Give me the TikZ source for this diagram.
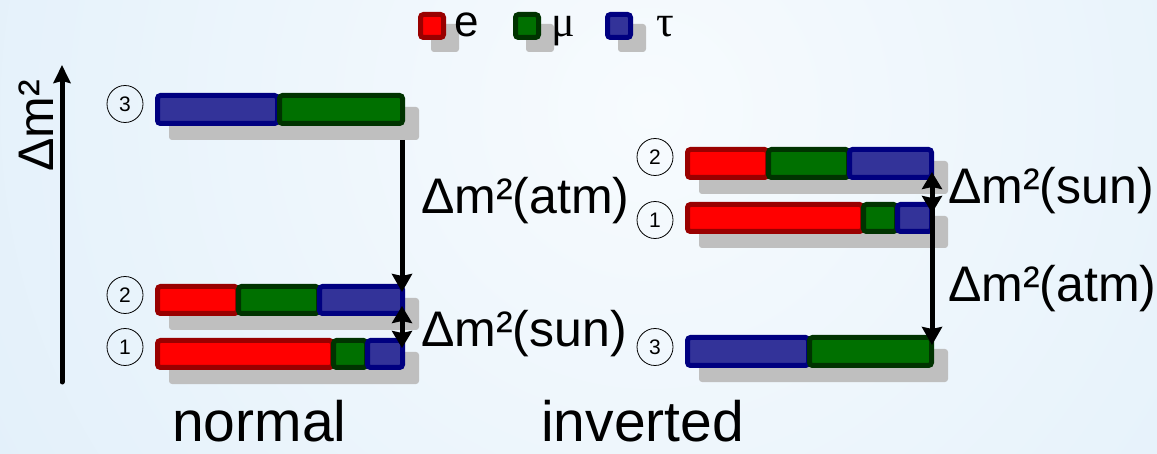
\documentclass[tikz,border=0pt]{standalone}
\usepackage{fontspec}
\setmainfont{Liberation Sans}
\newfontfamily\greekfont{Liberation Serif}
\usetikzlibrary{arrows.meta,shapes.geometric}

\definecolor{bgin}{RGB}{247,251,254}
\definecolor{bgout}{RGB}{212,232,247}
\definecolor{efill}{RGB}{255,0,0}
\definecolor{eline}{RGB}{153,0,0}
\definecolor{mufill}{RGB}{0,112,0}
\definecolor{muline}{RGB}{0,51,0}
\definecolor{taufill}{RGB}{51,51,153}
\definecolor{tauline}{RGB}{0,0,128}
\definecolor{shadowgray}{RGB}{191,191,191}

\tikzset{
  seg/.style={line width=5pt, rounded corners=3pt},
  shadowbox/.style={fill=shadowgray, rounded corners=3pt},
  lvl/.style={ellipse, draw, line width=0.8pt, minimum width=36pt,
    minimum height=37pt, inner sep=0pt, font=\fontsize{21}{21}\selectfont},
  lbl/.style={font=\fontsize{50}{60}\selectfont, inner sep=0pt},
  hier/.style={font=\fontsize{57}{66}\selectfont, inner sep=0pt},
  legtxt/.style={font=\fontsize{44}{50}\selectfont, inner sep=0pt},
  longarr/.style={line width=5pt, -{Stealth[length=18pt,width=20pt,inset=2pt]}},
  duoarr/.style={line width=5pt, {Stealth[length=17pt,width=20pt,inset=2pt]}-{Stealth[length=17pt,width=20pt,inset=2pt]}},
}

% one coloured piece of a mass bar: x-from, x-to, y-top, y-bottom, flavour
\newcommand\massseg[5]{%
  \draw[seg, fill=#5fill, draw=#5line] (#1+2.5,#3+2.5) rectangle (#2-2.5,#4-2.5);}
% grey drop shadow behind a bar
\newcommand\dropshade[4]{%
  \fill[shadowbox] (#1+14,#3+14) rectangle (#2+14,#4+14);}

\begin{document}
\begin{tikzpicture}[x=1pt, y=-1pt]
  % canvas and background
  \useasboundingbox (0,0) rectangle (1157,454);
  \begin{scope}
    \clip (0,0) rectangle (1157,454);
    \shade[inner color=bgin, outer color=bgout] (650,110) circle (1300);
  \end{scope}

  % legend
  \fill[shadowbox] (431,24) rectangle (459,52);
  \draw[seg, fill=efill, draw=eline] (420.5,14.5) rectangle (443.5,37.5);
  \node[legtxt, anchor=base west] (leg-e) at (454,37) {e};
  \fill[shadowbox] (526,24) rectangle (554,52);
  \draw[seg, fill=mufill, draw=muline] (515.5,14.5) rectangle (538.5,37.5);
  \node[legtxt, anchor=base west, font=\fontsize{44}{50}\greekfont] (leg-mu) at (551,37) {μ};
  \fill[shadowbox] (618,24) rectangle (646,52);
  \draw[seg, fill=taufill, draw=tauline] (607.5,14.5) rectangle (630.5,37.5);
  \node[legtxt, anchor=base west, font=\fontsize{44}{50}\greekfont] (leg-tau) at (656,37) {τ};

  % vertical mass axis
  \coordinate (axbot) at (62,382);
  \coordinate (axtop) at (62,65);
  \draw[line width=5pt, line cap=round, -{Stealth[length=18pt,width=17pt,inset=2pt]}] (axbot) -- (axtop);
  \node[lbl, rotate=90, anchor=base] (axlbl) at (53,126) {Δm²};

  % ---------- normal ordering ----------
  % level 3
  \dropshade{155}{405}{93}{126}
  \massseg{155}{280}{93}{126}{tau}
  \massseg{277}{405}{93}{126}{mu}
  \node[lvl] (n3) at (125,104) {3};
  % level 2
  \dropshade{155}{405}{284}{316}
  \massseg{155}{240}{284}{316}{e}
  \massseg{236}{321}{284}{316}{mu}
  \massseg{317}{405}{284}{316}{tau}
  \node[lvl] (n2) at (125,295) {2};
  % level 1
  \dropshade{155}{405}{338}{370}
  \massseg{155}{335}{338}{370}{e}
  \massseg{331}{369}{338}{370}{mu}
  \massseg{365}{405}{338}{370}{tau}
  \node[lvl] (n1) at (125,347) {1};

  \coordinate (natmtop) at (402,140);
  \coordinate (natmbot) at (402,292);
  \coordinate (nsuntop) at (402,306);
  \coordinate (nsunbot) at (402,348);
  \draw[longarr] (natmtop) -- (natmbot);
  \draw[duoarr] (nsuntop) -- (nsunbot);
  \node[lbl, anchor=base west] (natm) at (421,214) {Δm²(atm)};
  \node[lbl, anchor=base west] (nsun) at (421,347) {Δm²(sun)};

  % ---------- inverted ordering ----------
  % level 2
  \dropshade{685}{934}{147}{180}
  \massseg{685}{770}{147}{180}{e}
  \massseg{766}{851}{147}{180}{mu}
  \massseg{847}{934}{147}{180}{tau}
  \node[lvl] (i2) at (655,157) {2};
  % level 1
  \dropshade{685}{934}{202}{234}
  \massseg{685}{865}{202}{234}{e}
  \massseg{861}{899}{202}{234}{mu}
  \massseg{895}{934}{202}{234}{tau}
  \node[lvl] (i1) at (655,220) {1};
  % level 3
  \dropshade{685}{934}{335}{368}
  \massseg{685}{811}{335}{368}{tau}
  \massseg{807}{934}{335}{368}{mu}
  \node[lvl] (i3) at (655,347) {3};

  \coordinate (isuntop) at (932,172);
  \coordinate (isunbot) at (932,213);
  \coordinate (iatmtop) at (932,200);
  \coordinate (iatmbot) at (932,345);
  \draw[longarr] (iatmtop) -- (iatmbot);
  \draw[duoarr] (isuntop) -- (isunbot);
  \node[lbl, anchor=base west] (isun) at (948,204) {Δm²(sun)};
  \node[lbl, anchor=base west] (iatm) at (948,302) {Δm²(atm)};

  % ordering names
  \node[hier, anchor=base west] (lnormal) at (172,441) {normal};
  \node[hier, anchor=base west] (linv) at (541,441) {inverted};
\end{tikzpicture}
\end{document}
